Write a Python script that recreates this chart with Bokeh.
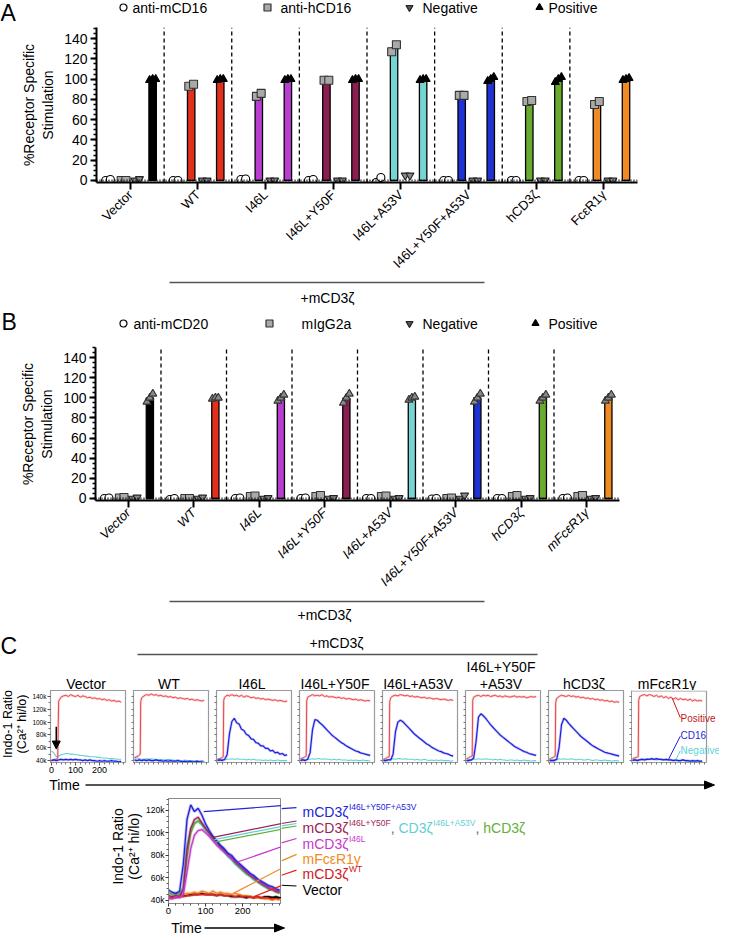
import math
from bokeh.plotting import figure
from bokeh.models import Range1d, FixedTicker, Span, Arrow, NormalHead
from bokeh.layouts import column, row
from bokeh.core.properties import value
from bokeh.embed import file_html
from bokeh.resources import INLINE

FONT = "Liberation Sans"
W = 717

# ---------------- data: panels A and B ----------------
groups_A = ["Vector", "WT", "I46L", "I46L+Y50F", "I46L+A53V", "I46L+Y50F+A53V", "hCD3ζ", "FcεR1γ"]
groups_B = ["Vector", "WT", "I46L", "I46L+Y50F", "I46L+A53V", "I46L+Y50F+A53V", "hCD3ζ", "mFcεR1γ"]
group_colors = ["#000000", "#e2301c", "#b83dd0", "#8c1f52", "#74d5d3", "#1f33d2", "#68ab2e", "#ef8b22"]

A_anti_mCD16 = [[0, 1], [0, 0], [1, 1.5], [0, 1], [-2, 3], [0, 0], [0, 0], [0, 0]]
A_anti_hCD16 = [[0, 0], [93, 95], [83, 86], [99, 99], [127, 134], [84, 84], [78, 79], [75, 78]]
A_negative = [[0, 1.5], [0, 0], [0, 0], [0, 0], [5, 5], [0, 0], [0, 0], [0, 0]]
A_positive = [[99, 100, 100], [99, 100, 100], [99, 100, 100], [99, 100, 100],
              [99, 100, 100], [98, 100, 102], [97, 100, 102], [99, 100, 101]]

B_anti_mCD20 = [[0, 0.5], [-1, 0], [0, 0.5], [0, 0.5], [0, 0], [-0.5, 0], [0, 0], [0, 0.5]]
B_mIgG2a = [[0.5, 1], [0, 0], [2, 2.5], [2, 3], [2, 2.5], [0, 0.5], [2, 3], [2, 3]]
B_negative = [[0, 1], [0, 1], [0, 0.5], [0, 0.5], [0, 0.5], [0, 3], [0, 0.5], [0, 0.5]]
B_positive = [[96, 100, 104], [99, 100, 100], [97, 100, 103], [95, 100, 104],
              [98, 100, 101], [96, 100, 104], [97, 100, 103], [97, 100, 103]]

# ---------------- data: panel C small multiples (values in k) ----------------
sm_titles = ["Vector", "WT", "I46L", "I46L+Y50F", "I46L+A53V", "I46L+Y50F\n+A53V", "hCD3ζ", "mFcεR1γ"]
t_pos = [0, 8, 16, 24, 26] + list(range(30, 291, 10))
t_sm = list(range(0, 291, 10))

pos_vector = [40, 41, 42, 43, 44, 133, 139, 141, 142, 140, 143, 141, 140, 142, 139, 141, 140, 138,
              139, 137, 138, 136, 137, 135, 136, 134, 135, 133, 134, 132, 133, 131]
pos_wt = [44, 46, 47, 50, 132, 138, 141, 143, 142, 144, 142, 143, 141, 142, 140, 141, 139, 140,
          138, 139, 137, 138, 137, 136, 137, 135, 136, 134, 135, 134, 133, 134]
pos_i46l = [42, 43, 44, 46, 134, 139, 142, 141, 143, 141, 142, 140, 142, 139, 141, 140, 138, 139,
            137, 138, 136, 137, 135, 136, 135, 134, 135, 133, 134, 133, 132, 133]
pos_y50f = [43, 44, 45, 47, 133, 139, 141, 143, 141, 142, 141, 143, 140, 141, 139, 140, 139, 138,
            139, 137, 138, 136, 137, 136, 135, 136, 134, 135, 134, 133, 134, 133]
pos_a53v = [42, 43, 45, 46, 132, 138, 141, 142, 141, 143, 142, 141, 142, 140, 141, 139, 140, 139,
            138, 139, 137, 138, 137, 136, 137, 136, 135, 136, 135, 134, 135, 134]
pos_triple = [43, 44, 46, 47, 134, 139, 141, 142, 140, 142, 141, 142, 140, 141, 142, 140, 141, 139,
              141, 140, 139, 140, 141, 139, 140, 139, 140, 138, 139, 140, 139, 140]
pos_hcd3z = [42, 44, 45, 47, 131, 137, 140, 142, 141, 140, 142, 140, 141, 139, 140, 138, 139, 137,
             138, 136, 137, 135, 136, 134, 135, 133, 134, 132, 133, 131, 132, 131]
pos_fce = [43, 44, 45, 46, 134, 140, 142, 143, 141, 143, 142, 140, 142, 139, 141, 138, 140, 137,
           139, 136, 138, 135, 137, 135, 136, 134, 136, 133, 135, 133, 134, 133]

cd16_vector = [40, 41, 40, 41, 42, 41, 42, 41, 42, 41,
               42, 41, 41, 40, 41, 40, 41, 40, 40, 39,
               40, 39, 40, 39, 39, 40, 39, 39, 38, 39]
cd16_wt = [41, 40, 41, 40, 41, 40, 41, 40, 40, 41,
           40, 40, 39, 40, 39, 40, 39, 39, 40, 39,
           38, 39, 38, 39, 38, 38, 39, 38, 38, 37]
cd16_i46l = [40, 41, 40, 42, 49, 82, 101, 106, 99, 97,
             89, 87, 81, 79, 74, 73, 68, 67, 63, 63,
             59, 59, 55, 56, 52, 53, 50, 51, 48, 49]
cd16_y50f = [40, 41, 40, 42, 52, 88, 104, 103, 99, 96,
             92, 88, 84, 80, 77, 74, 71, 68, 66, 63,
             61, 59, 57, 55, 54, 52, 51, 50, 49, 48]
cd16_a53v = [40, 40, 41, 41, 50, 85, 100, 103, 101, 97,
             93, 89, 85, 81, 78, 75, 72, 69, 66, 64,
             61, 59, 57, 55, 54, 52, 51, 50, 48, 47]
cd16_triple = [40, 40, 41, 44, 70, 108, 113, 110, 106, 101,
               96, 92, 88, 84, 80, 77, 74, 71, 68, 65,
               62, 60, 58, 56, 54, 53, 51, 50, 49, 48]
cd16_hcd3z = [40, 40, 40, 42, 60, 96, 106, 103, 98, 94,
              90, 86, 82, 78, 75, 72, 69, 66, 63, 61,
              59, 57, 55, 53, 52, 51, 50, 49, 48, 47]
cd16_fce = [40, 41, 40, 41, 42, 41, 42, 42, 43, 42,
            43, 42, 42, 41, 42, 41, 41, 40, 41, 40,
            40, 41, 40, 40, 39, 40, 39, 40, 39, 39]

neg_vector = [55, 52, 46, 47, 49, 50, 51, 51, 50, 50,
              49, 49, 48, 48, 47, 47, 46, 46, 46, 45,
              45, 44, 44, 44, 43, 43, 43, 42, 42, 42]
neg_wt = [45, 44, 43, 42, 42, 43, 42, 43, 42, 42,
          41, 42, 41, 41, 42, 41, 41, 40, 41, 40,
          40, 41, 40, 40, 40, 39, 40, 39, 40, 39]
neg_i46l = [42, 41, 42, 41, 42, 42, 43, 42, 43, 42,
            42, 42, 41, 42, 41, 42, 41, 41, 41, 40,
            41, 40, 41, 40, 40, 41, 40, 40, 40, 40]
neg_y50f = [41, 42, 41, 42, 42, 43, 42, 43, 43, 42,
            43, 42, 42, 41, 42, 41, 42, 41, 41, 41,
            40, 41, 40, 41, 40, 40, 41, 40, 40, 39]
neg_a53v = [42, 41, 42, 42, 43, 42, 43, 43, 42, 43,
            42, 42, 42, 41, 42, 41, 41, 42, 41, 40,
            41, 40, 41, 40, 41, 40, 40, 40, 39, 40]
neg_triple = [41, 42, 41, 42, 42, 43, 42, 42, 43, 42,
              42, 41, 42, 41, 42, 41, 41, 40, 41, 41,
              40, 41, 40, 40, 41, 40, 40, 39, 40, 40]
neg_hcd3z = [42, 41, 42, 41, 43, 42, 43, 42, 42, 43,
             42, 41, 42, 42, 41, 41, 42, 41, 40, 41,
             41, 40, 40, 41, 40, 40, 39, 40, 40, 39]
neg_fce = [41, 42, 41, 42, 42, 42, 43, 42, 42, 42,
           41, 42, 41, 42, 41, 41, 41, 40, 41, 40,
           40, 41, 40, 40, 40, 39, 40, 40, 39, 39]

sm_positive = [pos_vector, pos_wt, pos_i46l, pos_y50f, pos_a53v, pos_triple, pos_hcd3z, pos_fce]
sm_cd16 = [cd16_vector, cd16_wt, cd16_i46l, cd16_y50f, cd16_a53v, cd16_triple, cd16_hcd3z, cd16_fce]
sm_negative = [neg_vector, neg_wt, neg_i46l, neg_y50f, neg_a53v, neg_triple, neg_hcd3z, neg_fce]

# ---------------- data: panel C overlay (values in k) ----------------
t_ins = list(range(0, 301, 10))
ins_vector = [42, 42, 43, 43, 44, 44, 45, 45, 45, 46, 45, 45, 45, 44, 45, 44,
              44, 43, 43, 43, 43, 42, 43, 42, 43, 42, 43, 43, 42, 43, 42]
ins_fce = [42, 43, 44, 45, 45, 46, 46, 47, 46, 48, 47, 46, 48, 46, 47, 46,
           46, 45, 46, 45, 44, 44, 43, 43, 42, 42, 41, 41, 40, 41, 40]
ins_wt = [41, 42, 42, 43, 43, 44, 44, 45, 45, 45, 45, 45, 45, 44, 45, 44,
          44, 44, 43, 44, 43, 43, 43, 42, 43, 42, 42, 42, 41, 42, 41]
ins_a53v = [47, 46, 45, 46, 52, 88, 103, 109, 110, 107, 102, 98, 94, 90, 86, 83,
            79, 76, 72, 69, 66, 63, 61, 58, 56, 54, 52, 50, 49, 48, 47]
ins_hcd3z = [46, 45, 46, 45, 48, 78, 100, 108, 111, 108, 104, 99, 95, 92, 87, 84,
             80, 77, 73, 70, 67, 64, 62, 59, 57, 54, 52, 50, 49, 47, 46]
ins_y50f = [44, 43, 44, 43, 50, 85, 104, 112, 114, 109, 104, 100, 96, 92, 88, 85,
            81, 78, 74, 71, 68, 65, 62, 60, 57, 55, 53, 51, 50, 48, 47]
ins_i46l = [42, 41, 43, 42, 45, 65, 86, 98, 102, 103, 100, 97, 93, 89, 86, 83,
            80, 77, 75, 72, 69, 66, 63, 61, 58, 56, 54, 52, 50, 49, 48]
ins_triple = [49, 47, 46, 48, 72, 112, 125, 119, 122, 116, 108, 102, 97, 93, 89, 86,
              82, 80, 76, 73, 70, 67, 64, 62, 59, 57, 55, 53, 52, 50, 49]

ins_series = [  # (values, colour)
    (ins_vector, "#000000"), (ins_fce, "#f08a24"), (ins_wt, "#e0221c"),
    (ins_a53v, "#5fd0d2"), (ins_hcd3z, "#62b03a"), (ins_y50f, "#9c2257"),
    (ins_i46l, "#c837cc"), (ins_triple, "#2323d8"),
]

# ---------------- helpers ----------------
CW = {' ': 278, ',': 278, '+': 584, '-': 333, '/': 278, '(': 333, ')': 333, 'A': 667, 'C': 722,
      'D': 722, 'F': 611, 'I': 278, 'L': 556, 'R': 722, 'T': 611, 'V': 667, 'W': 944, 'Y': 667,
      'a': 556, 'c': 500, 'e': 556, 'h': 556, 'i': 222, 'l': 222, 'm': 833, 'n': 556, 'o': 556,
      'r': 333, 's': 500, 't': 278, 'v': 500, 'ζ': 480, 'ε': 470, 'γ': 500}


def text_w(s, size):
    return sum(CW.get(ch, 556) for ch in s) / 1000.0 * size


def strip(w, h):
    f = figure(width=w, height=h, x_range=Range1d(0, w), y_range=Range1d(h, 0),
               x_axis_type=None, y_axis_type=None, output_backend="svg", toolbar_location=None,
               min_border_left=0, min_border_right=0, min_border_top=0, min_border_bottom=0)
    f.outline_line_color = None
    return f


def T(f, x, y, s, size=14, color="black", align="left", baseline="middle", angle=0.0, style="normal"):
    f.text(x=[x], y=[y], text=[s], text_font=value(FONT), text_font_size=value(f"{size}px"),
           text_color=color, text_align=align, text_baseline=baseline, angle=angle,
           text_font_style=style)


def rich(f, x, yc, segs, size=14, sup=8.5):
    base = yc + 0.36 * size
    for s, color, is_sup in segs:
        fs = sup if is_sup else size
        yb = base - 0.42 * size if is_sup else base
        T(f, x, yb, s, size=fs, color=color, baseline="alphabetic")
        x += text_w(s, fs)


def style_axis(ax, size, tick_out=6, minor_out=3, lw=2, color="black", minor_lw=1.5):
    ax.axis_line_width = lw
    ax.axis_line_color = color
    ax.major_tick_line_width = lw
    ax.major_tick_line_color = color
    ax.minor_tick_line_width = minor_lw
    ax.minor_tick_line_color = color
    ax.major_tick_out = int(tick_out)
    ax.major_tick_in = 0
    ax.minor_tick_out = int(minor_out)
    ax.minor_tick_in = 0
    ax.major_label_text_font = FONT
    ax.major_label_text_font_size = f"{size}px"
    ax.major_label_text_color = "black"
    ax.axis_label_text_font = FONT
    ax.axis_label_text_font_style = "normal"
    ax.axis_label_text_color = "black"


SLOT = [0.17, 0.40, 0.60, 0.83]


def spread(n):
    return {1: [0.0], 2: [-0.035, 0.035], 3: [-0.045, 0.0, 0.045]}[n]


def mean(v):
    return sum(v) / len(v)


def bar_panel(groups, series, frame_w, frame_h, y_end, left, right, top, bottom, italic):
    n = len(groups)
    p = figure(frame_width=frame_w, frame_height=frame_h, x_range=Range1d(0, n),
               y_range=Range1d(-2, y_end), min_border_left=left, min_border_right=right,
               min_border_top=top, min_border_bottom=bottom, output_backend="svg",
               toolbar_location=None)
    p.grid.visible = False
    p.outline_line_color = None
    seps = list(range(1, n))
    p.segment(x0=seps, y0=[-2] * len(seps), x1=seps, y1=[y_end] * len(seps),
              line_color="black", line_width=1.3, line_dash="4 3")
    p.add_layout(Span(location=0, dimension="width", line_color="black", line_width=2,
                      line_dash="1 2"))
    for k, (vals, marker, fill, line, msize, bar) in enumerate(series):
        if bar:
            p.vbar(x=[i + SLOT[k] for i in range(n)], top=[mean(v) for v in vals], bottom=0,
                   width=0.11, fill_color=group_colors, line_color="black", line_width=1.3)
    for k, (vals, marker, fill, line, msize, bar) in enumerate(series):
        xs, ys = [], []
        for i, v in enumerate(vals):
            for off, y in zip(spread(len(v)), v):
                xs.append(i + SLOT[k] + off)
                ys.append(y)
        p.scatter(x=xs, y=ys, marker=marker, size=msize, fill_color=fill, line_color=line,
                  line_width=1.1)
    ya = p.yaxis[0]
    style_axis(ya, 14)
    ya.ticker = FixedTicker(ticks=list(range(0, 141, 20)), minor_ticks=list(range(0, 151, 5)))
    ya.major_label_standoff = 3
    ya.axis_label = "%Receptor Specific\nStimulation"
    ya.axis_label_text_font_size = "14px"
    ya.axis_label_standoff = 5
    xa = p.xaxis[0]
    style_axis(xa, 13, tick_out=7)
    xa.minor_tick_line_color = None
    xa.ticker = FixedTicker(ticks=[i + 0.5 for i in range(n)])
    xa.major_label_overrides = {i + 0.5: g for i, g in enumerate(groups)}
    xa.major_label_orientation = math.pi / 4
    xa.major_label_standoff = 3
    if italic:
        xa.major_label_text_font_style = "italic"
    return p


def legend_row(f, y, items):
    for mx, marker, fill, line, tx, label in items:
        f.scatter(x=[mx], y=[y], marker=marker, size=7, fill_color=fill, line_color=line,
                  line_width=1.2)
        T(f, tx, y, label, 14)


# ---------------- panel A ----------------
legA = strip(W, 24)
T(legA, 0, 12, "A", 23)
legend_row(legA, 7, [
    (123, "circle", "white", "black", 132, "anti-mCD16"),
    (267, "square", "#a9a9a9", "#333333", 280, "anti-hCD16"),
    (409, "inverted_triangle", "#555555", "#222222", 422, "Negative"),
    (539, "triangle", "black", "black", 548, "Positive"),
])

series_A = [
    (A_anti_mCD16, "circle", "white", "black", 8, False),
    (A_anti_hCD16, "square", "#a9a9a9", "#333333", 8, True),
    (A_negative, "inverted_triangle", "#8a8a8a", "#222222", 8, False),
    (A_positive, "triangle", "black", "black", 8, True),
]
figA = bar_panel(groups_A, series_A, 541, 155, 151, 96, 80, 3, 95, False)

# ---------------- between A and B ----------------
mid1 = strip(W, 56)
mid1.line(x=[169, 484], y=[3, 3], line_color="#555555", line_width=1.5)
T(mid1, 327, 18, "+mCD3ζ", 14, align="center")
T(mid1, 1, 42.5, "B", 23)
legend_row(mid1, 44, [
    (123, "circle", "white", "black", 133, "anti-mCD20"),
    (269, "square", "#a9a9a9", "#333333", 301, "mIgG2a"),
    (409, "inverted_triangle", "#555555", "#222222", 422, "Negative"),
    (535, "triangle", "black", "black", 548, "Positive"),
])

series_B = [
    (B_anti_mCD20, "circle", "white", "black", 8, False),
    (B_mIgG2a, "square", "#a9a9a9", "#333333", 8, False),
    (B_negative, "inverted_triangle", "#8a8a8a", "#222222", 8, False),
    (B_positive, "triangle", "#8a8a8a", "#333333", 8, True),
]
figB = bar_panel(groups_B, series_B, 524, 153, 150, 95, 98, 12, 93, True)

# ---------------- between B and C, headers of C ----------------
mid2 = strip(W, 93)
mid2.line(x=[169, 484], y=[4, 4], line_color="#555555", line_width=1.5)
T(mid2, 324, 17, "+mCD3ζ", 14, align="center")
T(mid2, 0, 48, "C", 23)
T(mid2, 336, 45, "+mCD3ζ", 14, align="center")
mid2.line(x=[137, 537], y=[57, 57], line_color="#555555", line_width=1.5)
for i, ttl in enumerate(sm_titles):
    cx = 85.5 + 83 * i
    lines = ttl.split("\n")
    for j, ln in enumerate(lines):
        T(mid2, cx, 86 - 17 * (len(lines) - 1 - j), ln, 14, align="center")

# ---------------- small multiples ----------------
SM_Y = (37.0, 149.4)
SM_X = (-4, 308)
PX_PER_T = 75.0 / (SM_X[1] - SM_X[0])
lab_strip = strip(29, 86)
T(lab_strip, 7.5, 40, "Indo-1 Ratio", 12.5, align="center", angle=math.pi / 2)
T(lab_strip, 21.5, 40, "(Ca²⁺ hi/lo)", 12.5, align="center", angle=math.pi / 2)

sm_figs = []
for i in range(8):
    last = (i == 7)
    x_end = SM_X[1] + (13 / PX_PER_T if last else 0)
    p = figure(frame_width=(88 if last else 75), frame_height=72,
               x_range=Range1d(SM_X[0], x_end), y_range=Range1d(*SM_Y),
               min_border_left=(19 if i == 0 else 4), min_border_right=(0 if last else 4),
               min_border_top=0, min_border_bottom=14, output_backend="svg",
               toolbar_location=None)
    p.grid.visible = False
    if last:
        p.outline_line_color = None
        p.line(x=[SM_X[0], SM_X[1], SM_X[1]], y=[SM_Y[1] - 0.8, SM_Y[1] - 0.8, SM_Y[0]],
               line_color="#9a9a9a", line_width=1.2)
    else:
        p.outline_line_color = "#9a9a9a"
        p.outline_line_width = 1.2
    p.line(t_sm, sm_negative[i], line_color="#5fd3d6", line_width=1.1)
    p.line(t_pos, sm_positive[i], line_color="#e8494d", line_width=2.4, line_alpha=0.25)
    p.line(t_pos, sm_positive[i], line_color="#e8494d", line_width=1.0)
    p.line(t_sm, sm_cd16[i], line_color="#1f1fe0", line_width=2.6, line_alpha=0.25)
    p.line(t_sm, sm_cd16[i], line_color="#1f1fe0", line_width=1.2)
    ya = p.yaxis[0]
    style_axis(ya, 6.5, tick_out=3, minor_out=2, lw=1, color="#555555", minor_lw=0.8)
    ya.axis_line_color = "#9a9a9a"
    ya.major_label_standoff = 1
    xa = p.xaxis[0]
    style_axis(xa, 9, tick_out=3, minor_out=2, lw=1, color="#555555", minor_lw=0.8)
    xa.axis_line_color = "#9a9a9a"
    xa.major_label_standoff = 1
    xa.bounds = SM_X
    if i == 0:
        ya.ticker = FixedTicker(ticks=list(range(40, 141, 20)), minor_ticks=list(range(40, 146, 10)))
        ya.major_label_overrides = {v: f"{v}k" for v in range(40, 141, 20)}
        xa.ticker = FixedTicker(ticks=[0, 100, 200], minor_ticks=list(range(0, 301, 20)))
        p.add_layout(Arrow(end=NormalHead(size=8, fill_color="black", line_color="black"),
                           x_start=20, y_start=93, x_end=20, y_end=58,
                           line_color="black", line_width=1.5))
    else:
        ya.ticker = FixedTicker(ticks=[], minor_ticks=list(range(40, 146, 10)))
        xa.ticker = FixedTicker(ticks=[], minor_ticks=list(range(0, 301, 20)))
    if last:
        p.line([166, 199], [137, 107], line_color="#c0181c", line_width=1)
        p.line([150, 199], [42, 78], line_color="#1f1fe0", line_width=1)
        p.line([180, 199], [41, 55], line_color="#5fd3d6", line_width=1)
        for txt, yv, col in [("Positive", 106, "#c0181c"), ("CD16", 79, "#1f1fe0"),
                             ("Negative", 55, "#5fd3d6")]:
            p.text(x=[200], y=[yv], text=[txt], text_color=col, text_font=value(FONT),
                   text_font_size=value("10px"), text_baseline="middle", text_align="left")
    sm_figs.append(p)

# time arrow strip
time1 = strip(W, 17)
T(time1, 64, 8.5, "Time", 14, align="center")
time1.line(x=[85, 706], y=[8.5, 8.5], line_color="#555555", line_width=2)
time1.patch(x=[704, 714, 704], y=[4.5, 8.5, 12.5], fill_color="black", line_color="black")

# ---------------- overlay inset ----------------
INS_LAB_W = 143
INS_BORDER = 23
INS_L, INS_W, INS_T, INS_H = INS_LAB_W + INS_BORDER, 113, 793, 105
IX = (0, 305)
IY = (36.95, 130.7)
ROW_TOP = 788
ROW_H = (INS_T - ROW_TOP) + INS_H + 16
inset = figure(frame_width=INS_W, frame_height=INS_H, x_range=Range1d(*IX), y_range=Range1d(*IY),
               min_border_left=INS_BORDER, min_border_right=0, min_border_top=INS_T - ROW_TOP,
               min_border_bottom=16, output_backend="svg", toolbar_location=None)
inset.grid.visible = False
inset.outline_line_color = "#8a8a8a"
for vals, col in ins_series:
    inset.line(t_ins, vals, line_color=col, line_width=3.0, line_alpha=0.3)
    inset.line(t_ins, vals, line_color=col, line_width=1.3)
ya = inset.yaxis[0]
style_axis(ya, 8.5, tick_out=3, minor_out=2, lw=1, color="#333333", minor_lw=0.8)
ya.axis_line_color = "#8a8a8a"
ya.ticker = FixedTicker(ticks=list(range(40, 121, 20)), minor_ticks=list(range(40, 131, 5)))
ya.major_label_overrides = {v: f"{v}k" for v in range(40, 121, 20)}
ya.major_label_standoff = 1
xa = inset.xaxis[0]
style_axis(xa, 9.5, tick_out=3, minor_out=2, lw=1, color="#333333", minor_lw=0.8)
xa.axis_line_color = "#8a8a8a"
xa.ticker = FixedTicker(ticks=[0, 100, 200], minor_ticks=list(range(0, 301, 20)))
xa.major_label_standoff = 1

ins_lab = strip(INS_LAB_W, ROW_H)
ymid = (INS_T - ROW_TOP) + INS_H / 2
T(ins_lab, 117, ymid, "Indo-1 Ratio", 14, align="center", angle=math.pi / 2)
T(ins_lab, 133.5, ymid, "(Ca²⁺ hi/lo)", 14, align="center", angle=math.pi / 2)

LX = INS_L + INS_W  # canvas x of the label strip's left edge
labs = strip(W - LX, ROW_H)


def ins_px(t, v):
    return (INS_L + (t - IX[0]) / (IX[1] - IX[0]) * INS_W,
            INS_T + (IY[1] - v) / (IY[1] - IY[0]) * INS_H)


leaders = [  # colour, start (t, value), label end (canvas y)
    ("#2323d8", 95, 119, 799),
    ("#9c2257", 120, 96, 815),
    ("#5fd0d2", 124, 94, 818),
    ("#62b03a", 128, 92, 821),
    ("#c837cc", 186, 74, 836),
    ("#f08a24", 175, 46, 855),
    ("#e0221c", 230, 43, 874),
    ("#000000", 268, 43, 893),
]
END_X = 294
for col, t0, v0, ye in leaders:
    xs, ys = ins_px(t0, v0)
    yb = ys + (LX - xs) * (ye - ys) / (END_X - xs)
    vb = IY[1] - (yb - INS_T) / INS_H * (IY[1] - IY[0])
    inset.line([t0, IX[1]], [v0, vb], line_color=col, line_width=1.2)
    labs.line([0, END_X - LX], [yb - ROW_TOP, ye - ROW_TOP], line_color=col, line_width=1.2)

TXL = 300 - LX
rich(labs, TXL, 799 - ROW_TOP, [("mCD3ζ", "#2323d8", False), ("I46L+Y50F+A53V", "#2323d8", True)])
rich(labs, TXL, 818 - ROW_TOP, [("mCD3ζ", "#9c2257", False), ("I46L+Y50F", "#9c2257", True),
                                (", ", "#666666", False), ("CD3ζ", "#5fd0d2", False),
                                ("I46L+A53V", "#5fd0d2", True), (", ", "#666666", False),
                                ("hCD3ζ", "#62b03a", False)])
rich(labs, TXL, 837 - ROW_TOP, [("mCD3ζ", "#c837cc", False), ("I46L", "#c837cc", True)])
rich(labs, TXL, 856 - ROW_TOP, [("mFcεR1γ", "#f08a24", False)])
rich(labs, TXL, 874 - ROW_TOP, [("mCD3ζ", "#d0181c", False), ("WT", "#d0181c", True)])
rich(labs, TXL, 893 - ROW_TOP, [("Vector", "#000000", False)])

time2 = strip(W, 17)
T(time2, 186, 8.5, "Time", 14, align="center")
time2.line(x=[204, 276], y=[8.5, 8.5], line_color="black", line_width=1.5)
time2.patch(x=[274, 284, 274], y=[4.5, 8.5, 12.5], fill_color="black", line_color="black")

layout = column(row(legA), row(figA), row(mid1), row(figB), row(mid2),
                row(lab_strip, *sm_figs), row(time1), row(ins_lab, inset, labs), row(time2),
                spacing=0)

open("out.html", "w").write(file_html(layout, INLINE))
